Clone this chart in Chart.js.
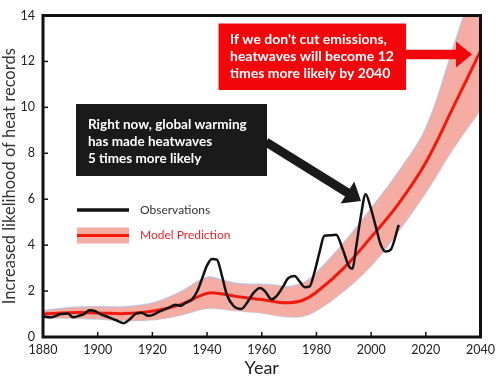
<!DOCTYPE html>
<html>
<head>
<meta charset="utf-8">
<script src="https://cdn.jsdelivr.net/npm/chart.js@4.4.0/dist/chart.umd.min.js"></script>
<style>
  html, body { margin: 0; padding: 0; background: #fff; }
  #wrap { width: 500px; height: 382px; }
</style>
</head>
<body>
<div id="wrap"><canvas id="chart" width="500" height="382"></canvas></div>
<script>
// observations (black wiggly line)
const obsYears = [1880, 1883, 1886.5, 1889, 1891, 1893, 1895, 1897, 1899, 1901, 1904, 1907, 1909.5, 1911.5,
  1914, 1916, 1918.5, 1920, 1922.5, 1926, 1928.5, 1930.3, 1932, 1934.5, 1936.4, 1938.2, 1940, 1941.8,
  1943.6, 1945.4, 1947.2, 1949.7, 1952.5, 1955, 1957, 1959.4, 1961.2, 1963.6, 1965.4, 1967.8, 1969.6,
  1972, 1973.9, 1975.7, 1977.5, 1979.3, 1981.1, 1982.9, 1985.3, 1987.2, 1989.6, 1992, 1993.2, 1994.4,
  1996.2, 1998, 1999.8, 2001.7, 2003.5, 2005.3, 2007.1, 2010.1];
const obsValues = [0.9, 0.86, 1.0, 1.02, 0.86, 0.92, 1.0, 1.17, 1.13, 1.0, 0.86, 0.72, 0.6, 0.75,
  1.02, 1.06, 0.92, 0.95, 1.1, 1.28, 1.4, 1.36, 1.48, 1.64, 1.99, 2.55, 3.12, 3.4,
  3.37, 2.69, 1.85, 1.35, 1.22, 1.56, 1.92, 2.13, 1.99, 1.64, 1.78, 2.2, 2.55,
  2.66, 2.41, 2.17, 2.2, 2.83, 3.68, 4.41, 4.43, 4.45, 3.82, 3.05, 2.97, 3.82,
  5.23, 6.22, 5.65, 4.81, 4.03, 3.72, 3.79, 4.88];

// model prediction (red line + salmon band)
const modelYears = [1880, 1890, 1900, 1910, 1920, 1930, 1940, 1945, 1950, 1955, 1960, 1965, 1970, 1975, 1980, 1990, 2000, 2010, 2020, 2030, 2040];
const modelMid   = [1.0, 1.06, 1.05, 1.02, 1.12, 1.4, 1.9, 1.88, 1.78, 1.7, 1.63, 1.53, 1.49, 1.6, 1.95, 3.0, 4.35, 5.8, 7.6, 10.0, 12.45];
const modelLow   = [0.82, 0.82, 0.78, 0.72, 0.75, 0.95, 1.25, 1.22, 1.15, 1.1, 1.05, 0.95, 0.88, 0.9, 1.15, 2.0, 3.1, 4.6, 6.3, 8.2, 9.9];
const modelHigh  = [1.15, 1.28, 1.32, 1.32, 1.48, 1.95, 2.6, 2.5, 2.35, 2.3, 2.3, 2.25, 2.2, 2.35, 2.8, 4.1, 5.6, 7.2, 9.1, 12.6, 16.2];

const xTicks = [1880, 1900, 1920, 1940, 1960, 1980, 2000, 2020, 2040];
const yTicks = [0, 2, 4, 6, 8, 10, 12, 14];

const redNote = ["If we don't cut emissions,", "heatwaves will become 12", "times more likely by 2040"];
const blackNote = ["Right now, global warming", "has made heatwaves", "5 times more likely"];

const pts = (xs, ys) => xs.map((x, i) => ({ x: x, y: ys[i] }));

const BAND = '#f4aca3';
const EDGE = 'rgba(180,190,222,0.75)';
const RED = '#f0190c';

function arrow(ctx, x1, y1, x2, y2, shaftW, headW, headL, color) {
  const a = Math.atan2(y2 - y1, x2 - x1);
  const len = Math.hypot(x2 - x1, y2 - y1);
  ctx.save();
  ctx.translate(x1, y1);
  ctx.rotate(a);
  ctx.fillStyle = color;
  ctx.beginPath();
  ctx.moveTo(0, -shaftW / 2);
  ctx.lineTo(len - headL, -shaftW / 2);
  ctx.lineTo(len - headL, -headW / 2);
  ctx.lineTo(len, 0);
  ctx.lineTo(len - headL, headW / 2);
  ctx.lineTo(len - headL, shaftW / 2);
  ctx.lineTo(0, shaftW / 2);
  ctx.closePath();
  ctx.fill();
  ctx.restore();
}

const framePlugin = {
  id: 'frame',
  afterDatasetsDraw(chart) {
    const { ctx, chartArea: ca, scales } = chart;
    ctx.save();
    ctx.strokeStyle = '#111';
    ctx.lineWidth = 1.5;
    xTicks.forEach(v => {
      const x = scales.x.getPixelForValue(v);
      ctx.beginPath(); ctx.moveTo(x, ca.bottom); ctx.lineTo(x, ca.bottom - 5); ctx.stroke();
    });
    yTicks.forEach(v => {
      const y = scales.y.getPixelForValue(v);
      ctx.beginPath(); ctx.moveTo(ca.left, y); ctx.lineTo(ca.left + 5, y); ctx.stroke();
    });
    ctx.lineWidth = 3;
    ctx.strokeRect(ca.left, ca.top, ca.right - ca.left, ca.bottom - ca.top);
    ctx.restore();
  },
  afterDraw(chart) {
    const ctx = chart.ctx;
    ctx.save();
    // legend
    ctx.lineCap = 'butt';
    ctx.strokeStyle = '#111';
    ctx.lineWidth = 3.5;
    ctx.beginPath(); ctx.moveTo(77, 210); ctx.lineTo(129, 210); ctx.stroke();
    ctx.fillStyle = BAND;
    ctx.fillRect(77, 227.5, 52, 16);
    ctx.strokeStyle = RED;
    ctx.lineWidth = 3;
    ctx.beginPath(); ctx.moveTo(77, 235.5); ctx.lineTo(129, 235.5); ctx.stroke();
    ctx.font = '12px Lato';
    ctx.textBaseline = 'middle';
    ctx.textAlign = 'left';
    ctx.fillStyle = '#333';
    ctx.fillText('Observations', 140, 210);
    ctx.fillStyle = '#e8262a';
    ctx.fillText('Model Prediction', 140, 235.5);

    // red note
    arrow(ctx, 405, 54.5, 472, 54.5, 9.5, 26, 16, '#f2060b');
    ctx.fillStyle = '#f2060b';
    ctx.fillRect(218.5, 23.5, 187.5, 66.5);
    ctx.fillStyle = '#fff';
    ctx.font = 'bold 14px Lato';
    redNote.forEach((t, i) => ctx.fillText(t, 230, 39.5 + i * 17.2));

    // black note
    arrow(ctx, 266, 142, 361, 201, 9, 26, 16, '#1a1a1a');
    ctx.fillStyle = '#1a1a1a';
    ctx.fillRect(76, 104, 191, 72);
    ctx.fillStyle = '#fff';
    ctx.font = 'bold 13.5px Lato';
    blackNote.forEach((t, i) => ctx.fillText(t, 88, 124.5 + i * 17.3));
    ctx.restore();
  }
};

new Chart(document.getElementById('chart'), {
  type: 'line',
  data: {
    datasets: [
      {
        data: pts(modelYears, modelLow),
        borderColor: EDGE, borderWidth: 1.5, pointRadius: 0, tension: 0.4, fill: false, order: 4
      },
      {
        data: pts(modelYears, modelHigh),
        borderColor: EDGE, borderWidth: 1.5, pointRadius: 0, tension: 0.4,
        fill: '-1', backgroundColor: BAND, order: 3
      },
      {
        data: pts(modelYears, modelMid),
        borderColor: RED, borderWidth: 3, pointRadius: 0, tension: 0.4, fill: false, order: 2
      },
      {
        data: pts(obsYears, obsValues),
        borderColor: '#111', borderWidth: 2.5, pointRadius: 0, cubicInterpolationMode: 'monotone',
        fill: false, order: 1
      }
    ]
  },
  options: {
    responsive: false,
    animation: false,
    devicePixelRatio: 1,
    layout: { padding: { top: 6, right: 16, left: 0, bottom: 0 } },
    plugins: { legend: { display: false }, tooltip: { enabled: false } },
    events: [],
    scales: {
      x: {
        type: 'linear', min: 1880, max: 2040,
        afterBuildTicks: s => { s.ticks = xTicks.map(v => ({ value: v })); },
        afterFit: s => { s.height = 45; },
        grid: { display: false, drawTicks: false }, border: { display: false },
        ticks: { color: '#222', font: { family: 'Lato', size: 12.5 }, padding: 5, maxRotation: 0, callback: v => String(v) },
        title: { display: true, text: 'Year', color: '#222', font: { family: 'Lato', size: 18 }, padding: { top: 0, bottom: 3 } }
      },
      y: {
        min: 0, max: 14,
        afterBuildTicks: s => { s.ticks = yTicks.map(v => ({ value: v })); },
        afterFit: s => { s.width = 43; },
        grid: { display: false, drawTicks: false }, border: { display: false },
        ticks: { color: '#222', font: { family: 'Lato', size: 12.5 }, padding: 8, callback: v => String(v) },
        title: { display: true, text: 'Increased likelihood of heat records', color: '#333', font: { family: 'Lato', size: 16.5 }, padding: { top: 0, bottom: 0 } }
      }
    }
  },
  plugins: [framePlugin]
});
</script>
</body>
</html>
